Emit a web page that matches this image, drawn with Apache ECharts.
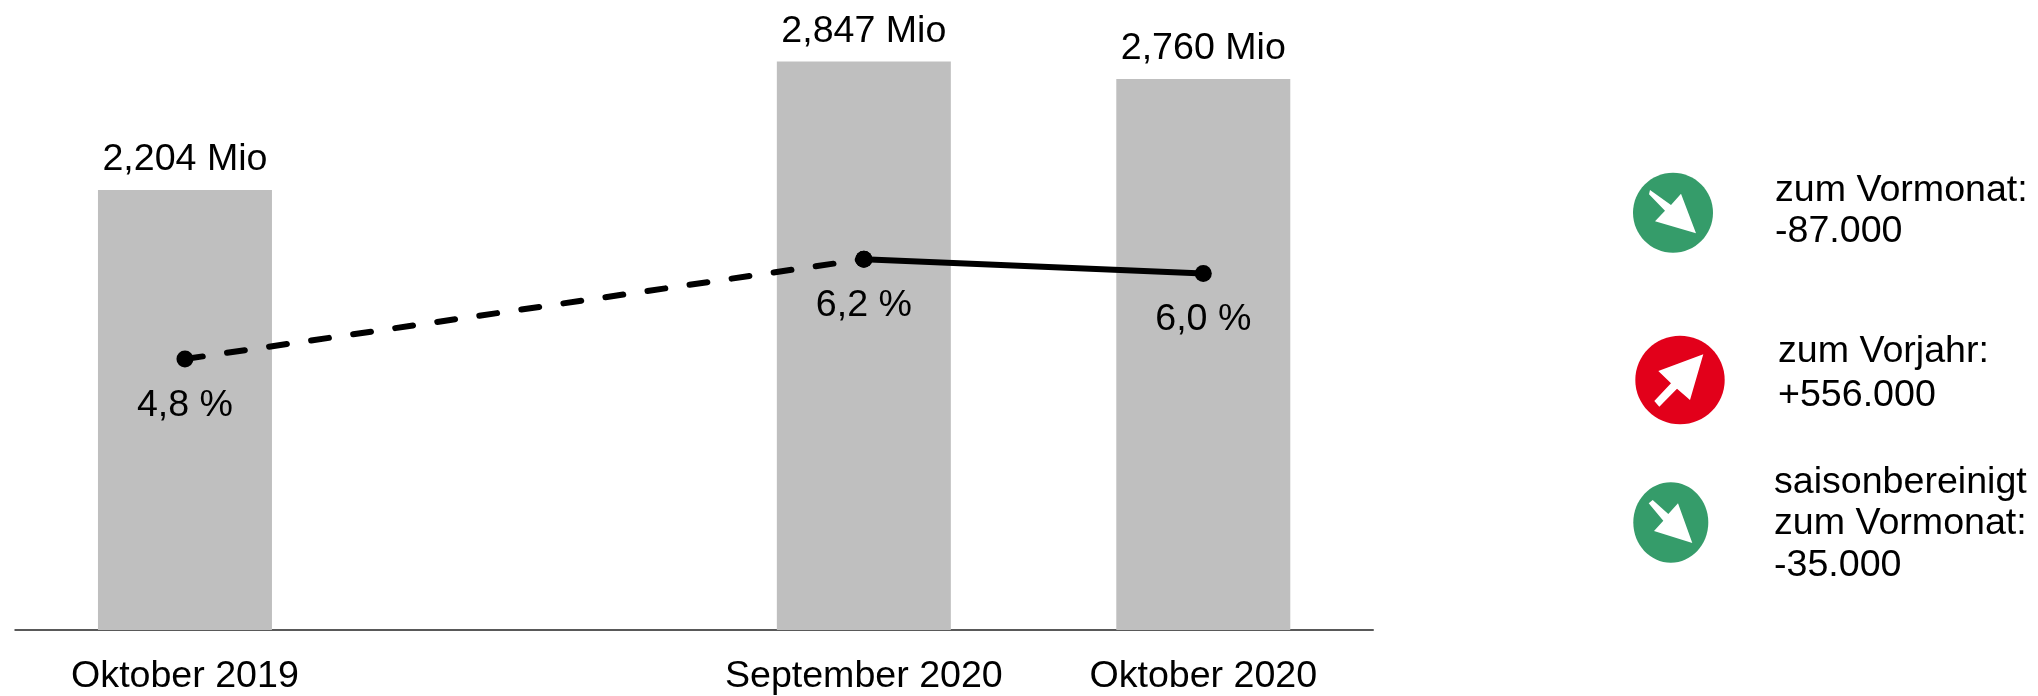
<!DOCTYPE html>
<html><head><meta charset="utf-8"><style>html,body{margin:0;padding:0;background:#fff}#c{width:2038px;height:696px}</style>
<script src="https://cdn.jsdelivr.net/npm/echarts@6/dist/echarts.min.js"></script></head><body><div id="c"></div>
<script>
const categories = ['Oktober 2019', '', 'September 2020', 'Oktober 2020'];
const persons = [2204, null, 2847, 2760];
const quoteDashed = [4.8, null, 6.2, null];
const quoteSolid = [null, null, 6.2, 6.0];
const FONT = '"Liberation Sans", Arial, sans-serif';
const FS = 37.6;
const fmtMio = v => (v / 1000).toFixed(3).replace('.', ',') + ' Mio';
const fmtPct = v => v.toFixed(1).replace('.', ',') + ' %';

const icons = [
  {c:'#359C6A', cx:1673, cy:212.7, rx:40, ry:40,
   arrow:[[1650,190],[1671,205],[1681,193.7],[1696,233.3],[1655,221.3],[1665,210.7],[1649,194.3]]},
  {c:'#E2001A', cx:1680, cy:380, rx:44.7, ry:44.3,
   arrow:[[1703.3,354.3],[1690,400],[1677,388.7],[1659.3,406.7],[1654.3,401],[1671,383.3],[1658.3,371]]},
  {c:'#359C6A', cx:1670.8, cy:522.5, rx:37.5, ry:40.2,
   arrow:[[1652.7,500],[1668.3,514],[1678,503.3],[1692.3,543],[1654,531],[1663.3,520.7],[1648.7,503.3]]}
];
const notes = [
  {x:1775, lines:[['zum Vormonat:',190.5],['-87.000',232]]},
  {x:1778, lines:[['zum Vorjahr:',352],['+556.000',395.5]]},
  {x:1774, lines:[['saisonbereinigt',483],['zum Vormonat:',523.5],['-35.000',565.5]]}
];
const graphic = [];
icons.forEach(i => {
  graphic.push({type:'ellipse', shape:{cx:i.cx, cy:i.cy, rx:i.rx, ry:i.ry}, style:{fill:i.c}});
  graphic.push({type:'polygon', shape:{points:i.arrow}, style:{fill:'#fff'}});
});
notes.forEach(n => n.lines.forEach(l => graphic.push({type:'text', x:n.x, y:l[1],
  style:{text:l[0], fill:'#000', font:FS + 'px ' + FONT, verticalAlign:'middle'}})));

const chart = echarts.init(document.getElementById('c'), null, {renderer:'canvas'});
chart.setOption({
  animation:false,
  backgroundColor:'#fff',
  grid:{left:15.25, right:665, top:31, bottom:64},
  xAxis:{type:'category', data:categories, boundaryGap:true,
    axisTick:{show:false}, axisLine:{lineStyle:{color:'#595959', width:2}},
    axisLabel:{color:'#000', fontFamily:FONT, fontSize:FS, margin:28, interval:0}},
  yAxis:[{type:'value', min:0, max:3000, show:false},
         {type:'value', min:1, max:9.4, show:false}],
  series:[
    {type:'bar', data:persons, barWidth:174, itemStyle:{color:'#BFBFBF'}, z:1,
     label:{show:true, position:'top', distance:11, color:'#000', fontFamily:FONT, fontSize:FS,
            formatter:p => fmtMio(p.value)}},
    {type:'line', yAxisIndex:1, data:quoteDashed, connectNulls:true, symbol:'circle', symbolSize:17, z:3,
     lineStyle:{color:'#000', width:6, type:[18,24.5], cap:'round'}, itemStyle:{color:'#000'},
     label:{show:true, position:'bottom', distance:19, color:'#000', fontFamily:FONT, fontSize:FS,
            formatter:p => p.dataIndex === 0 ? fmtPct(p.value) : ''}},
    {type:'line', yAxisIndex:1, data:quoteSolid, symbol:'circle', symbolSize:17, z:3,
     lineStyle:{color:'#000', width:6}, itemStyle:{color:'#000'},
     label:{show:true, position:'bottom', distance:19, color:'#000', fontFamily:FONT, fontSize:FS,
            formatter:p => fmtPct(p.value)}}
  ],
  graphic:graphic
});
</script></body></html>
